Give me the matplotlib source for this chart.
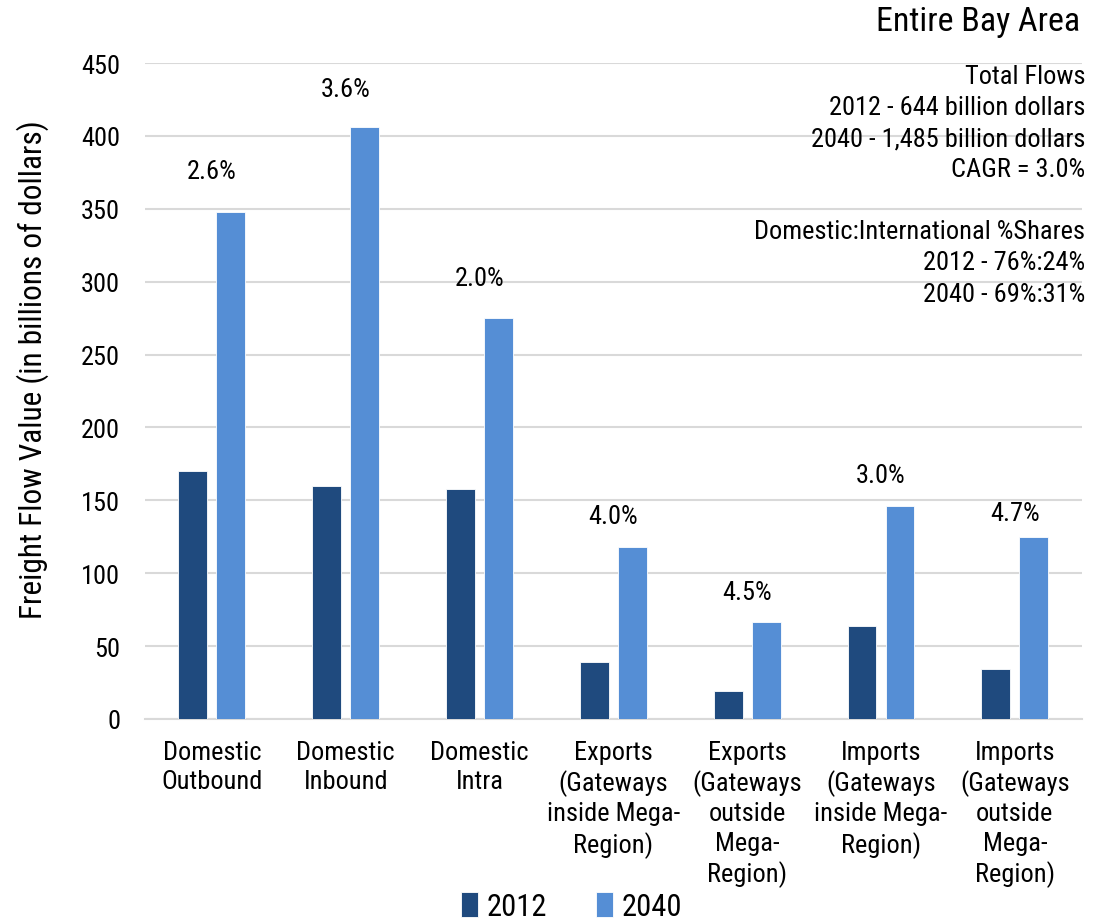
import matplotlib
matplotlib.use("Agg")
import matplotlib.pyplot as plt
from matplotlib import font_manager as fm
import numpy as np

categories = ["Domestic\nOutbound", "Domestic\nInbound", "Domestic\nIntra",
              "Exports\n(Gateways\ninside Mega-\nRegion)",
              "Exports\n(Gateways\noutside\nMega-\nRegion)",
              "Imports\n(Gateways\ninside Mega-\nRegion)",
              "Imports\n(Gateways\noutside\nMega-\nRegion)"]
values_2012 = [170, 160, 157.5, 39, 19, 64, 34]
values_2040 = [348, 406, 275, 118, 66.5, 146, 125]
cagr_labels = ["2.6%", "3.6%", "2.0%", "4.0%", "4.5%", "3.0%", "4.7%"]
series_names = ["2012", "2040"]
note_lines = ["Total Flows", "2012 - 644 billion dollars", "2040 - 1,485 billion dollars",
              "CAGR = 3.0%", "", "Domestic:International %Shares",
              "2012 - 76%:24%", "2040 - 69%:31%"]

# gap (px) between bar top and the CAGR label, the labels were placed by hand
label_gaps = [29, 26, 28, 19, 18, 19, 12]

# look for a narrow font, the original uses Arial Narrow
names = {f.name for f in fm.fontManager.ttflist}
fam = None
for n in ['Liberation Sans Narrow', 'Arial Narrow', 'Roboto Condensed', 'Open Sans Condensed',
          'Noto Sans Condensed', 'DejaVu Sans Condensed']:
    if n in names:
        fam = n
        break
stretch = 'normal'
if fam is None:
    for f in fm.fontManager.ttflist:
        if str(f.stretch) == 'condensed' and f.style == 'normal' and f.name in ('Noto Sans', 'DejaVu Sans', 'Roboto', 'Open Sans'):
            fam = f.name
            stretch = 'condensed'
            break
if fam is None:
    fam = 'DejaVu Sans'
plt.rcParams['font.family'] = [fam, 'DejaVu Sans']
plt.rcParams['font.stretch'] = stretch
plt.rcParams['text.color'] = '#000000'

dark = '#1f4a7e'
light = '#558ed5'
fs = 19

fig = plt.figure(figsize=(10.93, 9.2), dpi=100)
ax = fig.add_axes([0.1327, 0.2174, 0.857, 0.713])

x = np.arange(len(categories))
w = 0.216
ax.bar(x - 0.142, values_2012, w, color=dark, edgecolor='white', linewidth=0.6, label=series_names[0], zorder=3)
ax.bar(x + 0.142, values_2040, w, color=light, edgecolor='white', linewidth=0.6, label=series_names[1], zorder=3)

for i, lab in enumerate(cagr_labels):
    ax.annotate(lab, (x[i], values_2040[i]), xytext=(0, label_gaps[i] * 0.72), textcoords='offset points',
                ha='center', va='bottom', fontsize=fs)

ax.set_xlim(-0.5, len(categories) - 0.5)
ax.set_ylim(0, 450)
ax.set_yticks(np.arange(0, 451, 50))
ax.grid(axis='y', color='#d9d9d9', linewidth=1.5, zorder=0)
ax.set_axisbelow(True)
for s in ['top', 'right', 'left']:
    ax.spines[s].set_visible(False)
ax.spines['bottom'].set_color('#d9d9d9')
ax.spines['bottom'].set_linewidth(1.5)
ax.tick_params(axis='both', length=0, labelsize=fs, labelcolor='#000000')
ax.tick_params(axis='y', pad=18)
ax.set_xticks(x)
ax.set_xticklabels(categories, linespacing=1.27, va='top')
ax.tick_params(axis='x', pad=15)
ax.set_ylabel("Freight Flow Value (in billions of dollars)", fontsize=22.5)
ax.yaxis.set_label_coords(-0.103, 0.534)

fig.text(0.988, 0.976, "Entire Bay Area", ha='right', va='center', fontsize=24.5)
fig.text(0.9927, 0.929, "\n".join(note_lines), ha='right', va='top',
         fontsize=fs, linespacing=1.37)

fig.legend(loc='lower center', bbox_to_anchor=(0.523, -0.032), ncol=2, frameon=False,
           fontsize=22, handlelength=0.55, handleheight=0.9, handletextpad=0.3, columnspacing=1.6)

fig.savefig("out.png", dpi=100)
